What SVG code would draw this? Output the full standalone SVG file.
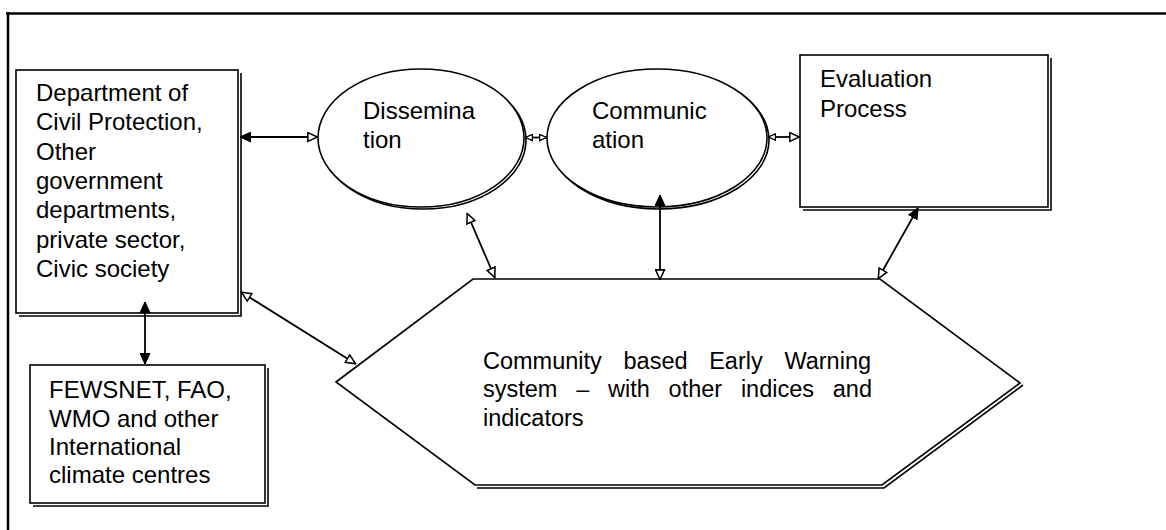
<svg xmlns="http://www.w3.org/2000/svg" width="1166" height="530" viewBox="0 0 1166 530">
<style>
text{font-family:"Liberation Sans",Arial,sans-serif;font-size:24px;fill:#000}
.t23{font-size:23.5px}
.shape{fill:#fff;stroke:#000;stroke-width:1.6}
.shadow{fill:none;stroke:#000;stroke-width:1.6}
.con{fill:none;stroke:#000;stroke-width:1.8}
</style>
<defs>
<marker id="af" viewBox="0 0 10 10" refX="10" refY="5" markerWidth="11" markerHeight="11" markerUnits="userSpaceOnUse" orient="auto-start-reverse">
<path d="M0,0.5 L10,5 L0,9.5 Z" fill="#000" stroke="#000" stroke-width="1"/>
</marker>
<marker id="ah" viewBox="0 0 10 10" refX="10" refY="5" markerWidth="11" markerHeight="11" markerUnits="userSpaceOnUse" orient="auto-start-reverse">
<path d="M0.8,1 L9.5,5 L0.8,9 Z" fill="#fff" stroke="#000" stroke-width="1.4"/>
</marker>
<marker id="as" viewBox="0 0 10 10" refX="10" refY="5" markerWidth="8" markerHeight="8" markerUnits="userSpaceOnUse" orient="auto-start-reverse">
<path d="M0.8,1 L9.5,5 L0.8,9 Z" fill="#fff" stroke="#000" stroke-width="1.6"/>
</marker>
</defs>

<g id="frame">
<line x1="6" y1="13.5" x2="1166" y2="13.5" stroke="#000" stroke-width="2.5"/>
<line x1="8" y1="12" x2="8" y2="530" stroke="#000" stroke-width="2.5"/>
</g>

<g id="node-dcp">
<path class="shadow" d="M241,73 V316 H19"/>
<rect class="shape" x="16" y="70" width="222" height="243"/>
<text x="36" y="101">Department of</text>
<text x="36" y="130">Civil Protection,</text>
<text x="36" y="160">Other</text>
<text x="36" y="189">government</text>
<text x="36" y="218">departments,</text>
<text x="36" y="248">private sector,</text>
<text x="36" y="277">Civic society</text>
</g>

<g id="node-dissemination">
<ellipse class="shadow" cx="423" cy="140" rx="103" ry="69"/>
<ellipse class="shape" cx="421" cy="138" rx="103" ry="69"/>
<text x="363" y="119">Dissemina</text>
<text x="363" y="148">tion</text>
</g>

<g id="node-communication">
<ellipse class="shadow" cx="659" cy="140" rx="110" ry="69"/>
<ellipse class="shape" cx="657" cy="138" rx="110" ry="69"/>
<text x="592" y="119">Communic</text>
<text x="592" y="148">ation</text>
</g>

<g id="node-evaluation">
<path class="shadow" d="M1051,58 V210 H803"/>
<rect class="shape" x="800" y="55" width="248" height="152"/>
<text x="820" y="87">Evaluation</text>
<text x="820" y="117">Process</text>
</g>

<g id="node-fewsnet">
<path class="shadow" d="M268,368 V506 H33"/>
<rect class="shape" x="30" y="365" width="235" height="138"/>
<text x="49" y="398">FEWSNET, FAO,</text>
<text x="49" y="427">WMO and other</text>
<text x="49" y="455">International</text>
<text x="49" y="483">climate centres</text>
</g>

<g id="node-ews">
<path class="shadow" d="M1023,385 L884,488 H477"/>
<polygon class="shape" points="336,382 473,279 880,279 1020,383 882,485 475,485"/>
<text class="t23" y="369"><tspan x="483">Community</tspan><tspan x="623.5">based</tspan><tspan x="709.2">Early</tspan><tspan x="784.4">Warning</tspan></text>
<text class="t23" y="397"><tspan x="483">system</tspan><tspan x="576.2">–</tspan><tspan x="608">with</tspan><tspan x="668.6">other</tspan><tspan x="740.9">indices</tspan><tspan x="832.8">and</tspan></text>
<text class="t23" x="483" y="426">indicators</text>
</g>

<g id="connectors">
<line class="con" x1="240" y1="137" x2="318" y2="137" marker-start="url(#af)" marker-end="url(#ah)"/>
<line class="con" x1="525" y1="137.5" x2="547" y2="137.5" marker-start="url(#as)" marker-end="url(#as)"/>
<line class="con" x1="768" y1="137" x2="800" y2="137" marker-start="url(#as)" marker-end="url(#ah)"/>
<line class="con" x1="467" y1="213" x2="495" y2="278" marker-start="url(#ah)" marker-end="url(#ah)"/>
<line class="con" x1="660" y1="195" x2="660" y2="280" marker-start="url(#af)" marker-end="url(#ah)"/>
<line class="con" x1="918" y1="208" x2="878" y2="279" marker-start="url(#af)" marker-end="url(#ah)"/>
<line class="con" x1="145" y1="302" x2="145" y2="364" marker-start="url(#af)" marker-end="url(#af)"/>
<line class="con" x1="241" y1="292" x2="356" y2="364" marker-start="url(#ah)" marker-end="url(#ah)"/>
</g>
</svg>
